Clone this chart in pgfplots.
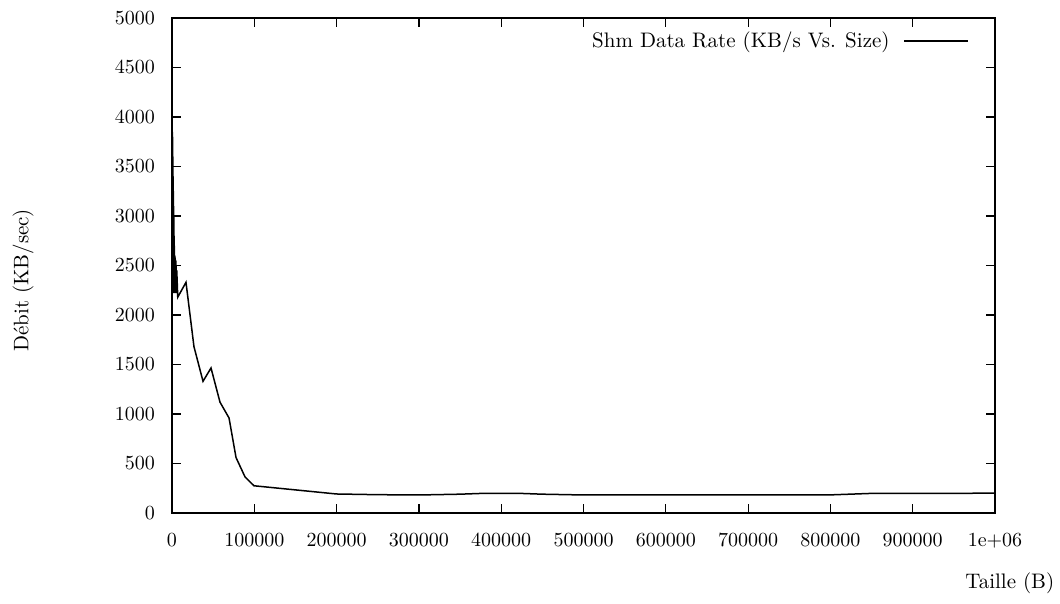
\documentclass[border=0pt]{standalone}
\usepackage{pgfplots}
\pgfplotsset{compat=1.18}
\begin{document}
\begin{tikzpicture}
\path[use as bounding box] (-86pt,-45.5pt) rectangle (444pt,256.5pt);
\begin{axis}[
  at={(0,0)}, anchor=origin,
  scale only axis, width=411.5pt, height=247.5pt,
  xmin=0, xmax=1000000, ymin=0, ymax=5000,
  xtick={0,100000,200000,300000,400000,500000,600000,700000,800000,900000,1000000},
  xticklabels={0,100000,200000,300000,400000,500000,600000,700000,800000,900000,1e+06},
  ytick={0,500,...,5000},
  scaled x ticks=false, scaled y ticks=false,
  yticklabel={\pgfmathprintnumber[fixed,1000 sep={}]{\tick}},
  tick align=inside, tick pos=both, major tick length=4.5pt,
  axis line style={line width=0.6pt}, tick style={line width=0.6pt, black},
  xticklabel style={yshift=-6.5pt},
  yticklabel style={xshift=-5pt},
  xlabel={Taille (B)}, ylabel={Débit (KB/sec)},
  label style={font=\fontsize{10.5}{12}\selectfont},
  xlabel style={at={(axis description cs:1.018,-0.141)}, anchor=center},
  ylabel style={at={(axis description cs:-0.181,0.47)}, anchor=center, rotate=0},
  legend style={draw=none, fill=none, at={(axis description cs:0.969,0.9535)}, anchor=east, inner sep=0pt,
    font=\fontsize{10.5}{12}\selectfont},
  legend plot pos=right,
  legend cell align=right,
  legend image code/.code={\path (0pt,0pt); \draw[#1] (5pt,0pt) -- (37pt,0pt);},
]
\addplot[black, line width=0.75pt, mark=none] coordinates {
(10,1600) (100,3200) (200,3880) (300,2600) (400,3850) (500,2500) (600,3700) (700,2400)
(800,3800) (900,2450) (1000,3600) (1100,2300) (1200,3500) (1300,2350) (1400,3400) (1500,2300)
(1600,3250) (1700,2250) (1800,3240) (1900,2300) (2000,3100) (2100,2250) (2200,3000) (2300,2220)
(2400,2900) (2500,2250) (2600,2800) (2700,2220) (2800,2700) (2900,2230) (3000,2650) (3200,2220)
(3400,2600) (3600,2230) (3800,2580) (4000,2220) (4200,2560) (4400,2230) (4600,2550) (4800,2220)
(5000,2500) (5400,2250) (5800,2450) (7000,2180) (17000,2330) (26700,1680) (37700,1330) (47400,1465)
(58300,1120) (69300,960) (77800,560) (88700,365) (99600,275) (200000,192) (250000,185) (300000,182)
(350000,190) (380000,199) (420000,199) (450000,190) (500000,182) (600000,182) (700000,182)
(800000,183) (850000,198) (900000,198) (1000000,200)
};
\addlegendentry{Shm Data Rate (KB/s Vs. Size)}
\end{axis}
\end{tikzpicture}
\end{document}
